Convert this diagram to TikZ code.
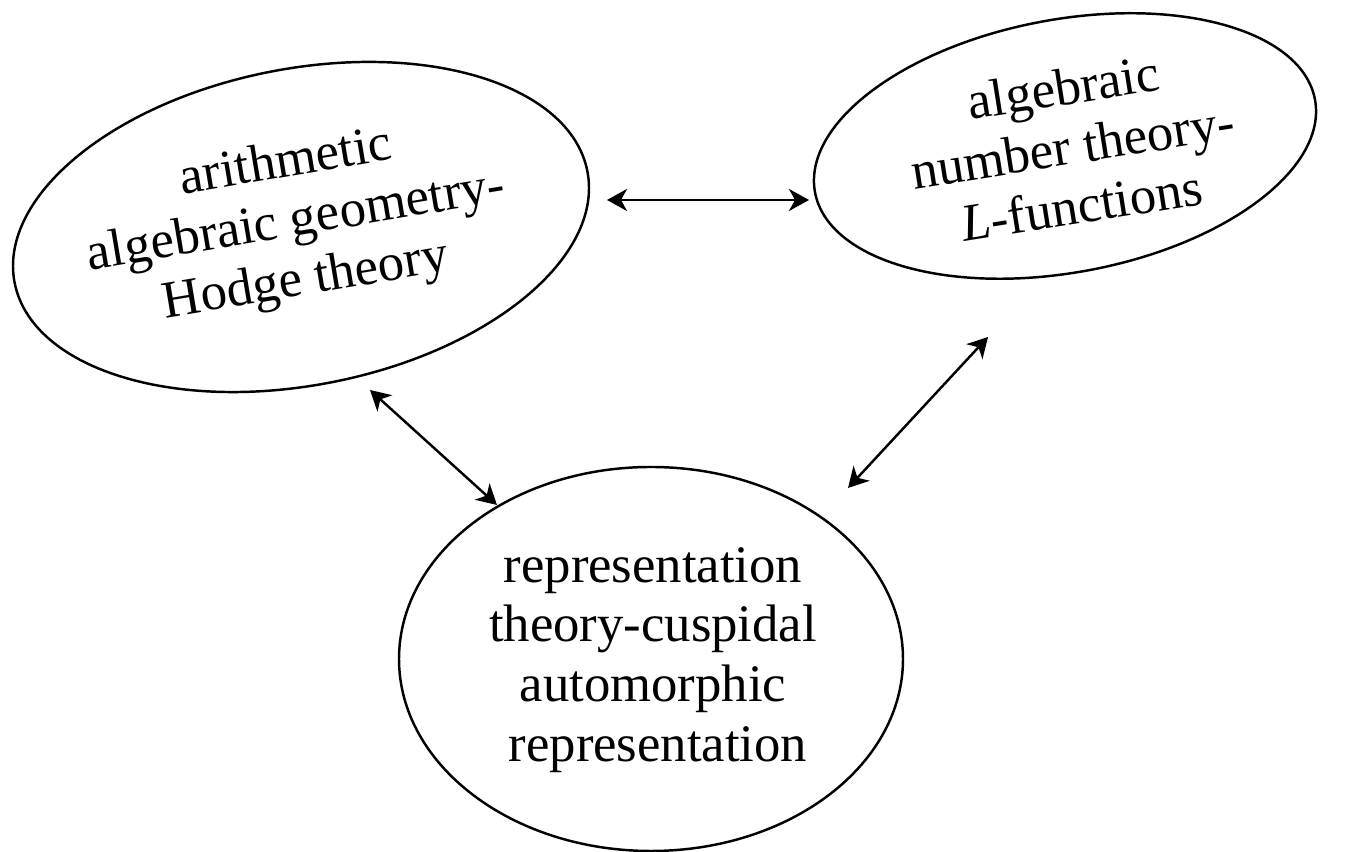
\documentclass[tikz,border=0pt]{standalone}
\usepackage{fontspec}
\setmainfont{Liberation Serif}[ItalicFont={Liberation Serif Italic}]
\usetikzlibrary{shapes.geometric,arrows.meta}

\begin{document}
\begin{tikzpicture}[>={Stealth[length=0.4cm,width=0.44cm,inset=0.12cm]},
  field/.style={draw,ellipse,line width=1.4pt,inner sep=0pt},
  fieldtext/.style={inner sep=0pt,align=center,font=\fontsize{30}{34}\selectfont},
  link/.style={<->,line width=1.4pt}]
\useasboundingbox (0,0) rectangle (26.92,17.04);
% the three fields
\node[field,minimum width=11.67cm,minimum height=6.33cm,rotate=11] (arith) at (6.02,12.50) {};
\node[fieldtext,rotate=9.5] (arithtext) at (5.92,12.58)
  {arithmetic\\algebraic geometry-\\Hodge theory};
\node[field,minimum width=10.17cm,minimum height=5.06cm,rotate=10.5] (numth) at (21.30,14.12) {};
\node[fieldtext,rotate=9] (numthtext) at (21.45,14.12)
  {algebraic\\number theory-\\\textit{L}-functions};
\node[field,minimum width=10.08cm,minimum height=7.68cm] (repth) at (13.02,3.86) {};
\node[fieldtext] (repthtext) at (13.06,3.84)
  {representation\\theory-cuspidal\\automorphic\\\hspace*{0.2cm}representation};
% arrow ends
\coordinate (an) at (12.14,13.04);
\coordinate (na) at (16.18,13.04);
\coordinate (ar) at (7.40,9.24);
\coordinate (ra) at (9.94,6.94);
\coordinate (nr) at (19.76,10.30);
\coordinate (rn) at (16.96,7.28);
\draw[link] (an) -- (na);
\draw[link] (ar) -- (ra);
\draw[link] (nr) -- (rn);
\end{tikzpicture}
\end{document}
